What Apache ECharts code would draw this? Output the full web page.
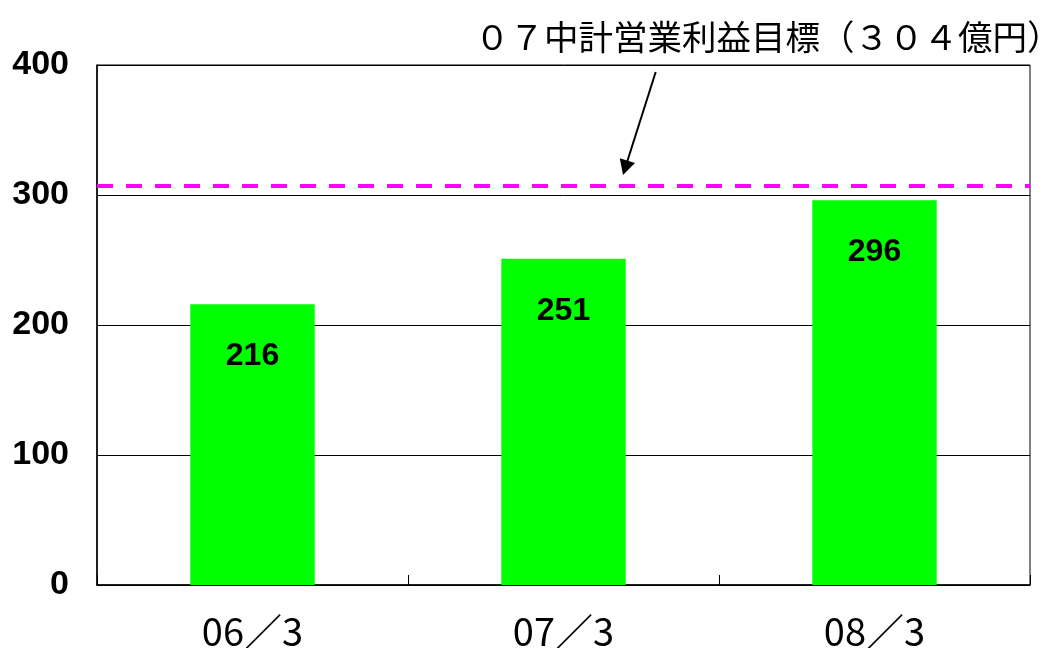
<!DOCTYPE html>
<html>
<head>
<meta charset="utf-8">
<script src="https://cdn.jsdelivr.net/npm/echarts@6/dist/echarts.min.js"></script>
<style>html,body{margin:0;padding:0;background:#fff;}#c{width:1049px;height:648px;}</style>
</head>
<body>
<div id="c"></div>
<script>
var categories = ['06／3', '07／3', '08／3'];
var profits = [216, 251, 296];
var targetLevel = [307];
var yTicks = [0, 100, 200, 300, 400];
var titleText = '０７中計営業利益目標（３０４億円）';

var chart = echarts.init(document.getElementById('c'));
chart.setOption({
  animation: false,
  backgroundColor: '#fff',
  title: {
    text: titleText,
    left: 470, top: 15,
    textStyle: {fontFamily: 'Noto Sans CJK JP', fontWeight: 'normal', fontSize: 34.5, color: '#000'}
  },
  grid: {left: 97, right: 19, top: 65, bottom: 63, show: true, borderColor: '#000', borderWidth: 1, containLabel: false, outerBoundsMode: 'none'},
  xAxis: {
    type: 'category', data: categories,
    axisLine: {lineStyle: {color: '#000', width: 1.5}},
    axisTick: {show: true, inside: true, length: 10, lineStyle: {color: '#000'}},
    axisLabel: {margin: 28, fontFamily: 'Noto Sans CJK JP', fontSize: 38, color: '#000'}
  },
  yAxis: {
    type: 'value', min: yTicks[0], max: yTicks[yTicks.length - 1], interval: 100,
    axisLine: {show: true, lineStyle: {color: '#000', width: 1.5}},
    axisTick: {show: true, inside: true, length: 10, lineStyle: {color: '#000'}},
    splitLine: {lineStyle: {color: '#000', width: 1}},
    axisLabel: {margin: 28, padding: [10, 0, 0, 0], fontFamily: 'Liberation Sans', fontWeight: 'bold', fontSize: 34, color: '#000'}
  },
  series: [{
    type: 'bar', data: profits, barWidth: '40%',
    itemStyle: {color: '#00FF00'},
    label: {show: true, position: 'insideTop', distance: 36, fontFamily: 'Liberation Sans', fontWeight: 'bold', fontSize: 32, color: '#000'},
    markLine: {
      silent: true, symbol: ['none', 'none'], label: {show: false},
      lineStyle: {color: '#FF00FF', width: 4, type: [16, 13]},
      data: [{yAxis: targetLevel[0]}]
    }
  }],
  graphic: [
    {type: 'line', shape: {x1: 655.7, y1: 72, x2: 627.4, y2: 161}, style: {stroke: '#000', lineWidth: 2}},
    {type: 'polygon', shape: {points: [[623, 175], [635, 163], [619.8, 158.3]]}, style: {fill: '#000'}}
  ]
});
</script>
</body>
</html>
